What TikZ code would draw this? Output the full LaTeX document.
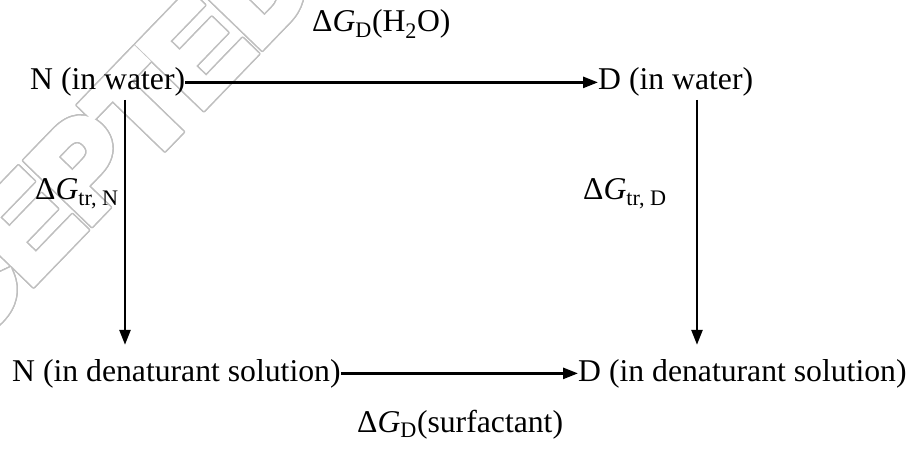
\documentclass[tikz,border=0pt]{standalone}
\usepackage{fontspec}
\setmainfont{Liberation Serif}
\newfontfamily\wmfont[FakeBold=7]{Liberation Sans Bold}
\usetikzlibrary{arrows.meta,calc}
\begin{document}
\begin{tikzpicture}[x=1pt,y=1pt,
  lbl/.style={inner sep=0pt, font=\fontsize{31.7}{38}\selectfont},
  arr/.style={line width=2.6pt, -{Triangle[length=15pt,width=11pt]}},
  wm/.style={inner sep=0pt, transform shape, font=\wmfont\fontsize{126}{126}\selectfont}]
\useasboundingbox (0,0) rectangle (911,448);
% watermark
\begin{scope}
\clip (0,0) rectangle (911,448);
\begin{scope}[shift={(140,342)}, rotate=46]
  \foreach \a [count=\i] in {0,22.5,...,337.5}{
    \node[wm, text=black!25, anchor=base east] (wmo\i) at ($(\a:1.5)+(212,-45)$) {ACCEPTED};
  }
  \node[wm, text=white, anchor=base east] (wmi) at (212,-45) {ACCEPTED};
\end{scope}
\end{scope}
% states
\node[lbl, anchor=base west] (nw) at (30,358) {N (in water)};
\node[lbl, anchor=base west] (dw) at (598,358) {D (in water)};
\node[lbl, anchor=base west] (nd) at (12,67) {N (in denaturant solution)};
\node[lbl, anchor=base west] (dd) at (578,67) {D (in denaturant solution)};
\coordinate (lx) at (125,0);
\coordinate (rx) at (697,0);
% arrows
\draw[arr] (nw.east) -- (dw.west);
\draw[arr] (nd.east) -- (dd.west);
\draw[arr, shorten <=3pt, shorten >=14pt] (nw.south -| lx) -- (nd.north -| lx);
\draw[arr, shorten <=3pt, shorten >=14pt] (dw.south -| rx) -- (dd.north -| rx);
% labels
\node[lbl, anchor=base west] (gh) at (312,416) {Δ\textit{G}\textsubscript{D}(H\textsubscript{2}O)};
\node[lbl, anchor=base west] (gn) at (35,248) {Δ\textit{G}\textsubscript{tr, N}};
\node[lbl, anchor=base west] (gd) at (583,248) {Δ\textit{G}\textsubscript{tr, D}};
\node[lbl, anchor=base west] (gs) at (357,16) {Δ\textit{G}\textsubscript{D}(surfactant)};
\end{tikzpicture}
\end{document}
